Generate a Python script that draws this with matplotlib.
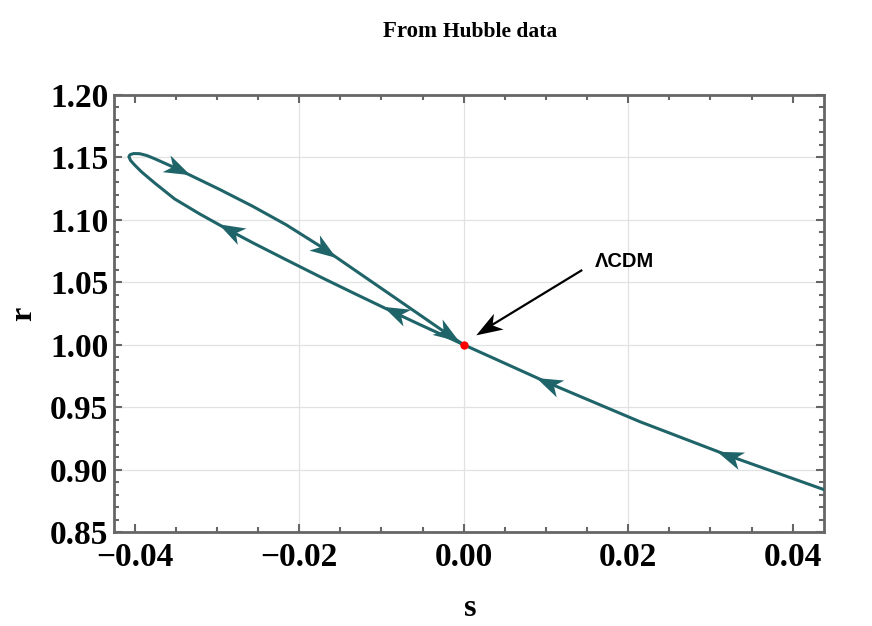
import numpy as np
import matplotlib.pyplot as plt
from matplotlib.path import Path
from matplotlib.markers import MarkerStyle
from matplotlib.transforms import Affine2D
from matplotlib.ticker import MultipleLocator, FuncFormatter

# s-r trajectory, in the order of travel
# (in from the right, lower branch up to the tip, upper branch back to LCDM)
s_traj = [0.04377, 0.03234, 0.0214, 0.01021, 0.00511, 0.0,
          -0.0013, -0.00535, -0.009, -0.01346, -0.01751, -0.02156, -0.02562,
          -0.02885, -0.0321, -0.03514, -0.03757, -0.03915, -0.04, -0.04049,
          -0.04069, -0.04055, -0.04012, -0.03939, -0.03854,
          -0.03757, -0.03574, -0.03331, -0.02967, -0.02562, -0.02156, -0.01751,
          -0.01346, -0.0094, -0.00535, -0.0021, 0.0]
r_traj = [0.884, 0.9108, 0.9384, 0.9696, 0.9848, 1.0,
          1.004, 1.0162, 1.0275, 1.0416, 1.0546, 1.068, 1.0816,
          1.0929, 1.1048, 1.1168, 1.1296, 1.1384, 1.144, 1.1476,
          1.1506, 1.1522, 1.1531, 1.153, 1.1516,
          1.149, 1.1436, 1.136, 1.1244, 1.1108, 1.096, 1.0792,
          1.0608, 1.0424, 1.024, 1.0092, 1.0]

# where the direction arrows sit on the curve
arrow_s = [0.0323, 0.0102, -0.0084, -0.02845, -0.03477, -0.0169, -0.00195]
arrow_r = [0.9112, 0.9696, 1.0264, 1.092, 1.1408, 1.0758, 1.0088]

# grid lines drawn in the original
grid_s = [-0.02, 0.0, 0.02]
grid_r = [0.90, 0.95, 1.00, 1.05, 1.10, 1.15]

# LCDM point and its label
lcdm_s, lcdm_r = 0.0, 1.0
label_tail = (0.0143, 1.0594)
label_tip = (0.0015, 1.008)
label_pos = (0.0159, 1.0626)

teal = '#1f6468'
frame = '#666666'
serif = 'Liberation Serif'

fig = plt.figure(figsize=(8.72, 6.26), dpi=100)
ax = fig.add_axes([114 / 872, 1 - 532 / 626, 710 / 872, 437 / 626])
ax.set_xlim(-0.0425, 0.0438)
ax.set_ylim(0.85, 1.20)

for g in grid_s:
    ax.axvline(g, color='#e2e2e2', lw=0.9, zorder=0)
for g in grid_r:
    ax.axhline(g, color='#e2e2e2', lw=0.9, zorder=0)

ax.plot(s_traj, r_traj, color=teal, lw=2.2, solid_joinstyle='round', zorder=3)

# swept-back arrowhead, tip at +1
head = Path([(1, 0), (-1, 0.7), (-0.45, 0), (-1, -0.7), (1, 0)],
            [Path.MOVETO, Path.LINETO, Path.LINETO, Path.LINETO, Path.CLOSEPOLY])


def put_head(x, y, ang, size, color):
    m = MarkerStyle(head, transform=Affine2D().rotate(ang))
    ax.plot([x], [y], marker=m, ms=size, color=color, mew=0, ls='none', zorder=4)


pts = ax.transData.transform(np.column_stack([s_traj, r_traj]))
for xa, ya in zip(arrow_s, arrow_r):
    p = ax.transData.transform((xa, ya))
    a, b = pts[:-1], pts[1:]
    d = b - a
    t = np.clip(np.sum((p - a) * d, axis=1) / np.sum(d * d, axis=1), 0, 1)
    dist = np.hypot(*(a + t[:, None] * d - p).T)
    k = np.argmin(dist)
    put_head(xa, ya, np.arctan2(d[k, 1], d[k, 0]), 19, teal)

ax.plot([lcdm_s], [lcdm_r], 'o', color='#ff0000', ms=6, mew=0, zorder=5)

# LCDM pointer
pt = ax.transData.transform(label_tip)
pb = ax.transData.transform(label_tail)
u = (pt - pb) / np.hypot(*(pt - pb))
hl = 26 / 2
pc = ax.transData.inverted().transform(pt - u * hl)
pn = ax.transData.inverted().transform(pt - u * hl * 1.4)
ax.plot([label_tail[0], pn[0]], [label_tail[1], pn[1]], color='black', lw=1.6, zorder=4)
put_head(pc[0], pc[1], np.arctan2(u[1], u[0]), 19, 'black')
ax.text(label_pos[0], label_pos[1], '\u039bCDM', fontsize=14.5, fontweight='bold',
        family='Liberation Sans', ha='left', va='baseline')

# frame, ticks
for sp in ax.spines.values():
    sp.set_color(frame)
    sp.set_linewidth(2)
ax.xaxis.set_major_locator(MultipleLocator(0.02))
ax.xaxis.set_minor_locator(MultipleLocator(0.005))
ax.yaxis.set_major_locator(MultipleLocator(0.05))
ax.yaxis.set_minor_locator(MultipleLocator(0.01))


def fmt(v, p):
    if abs(v) < 1e-9:
        v = 0.0
    return f'{v:.2f}'.replace('-', '\u2212')


ax.xaxis.set_major_formatter(FuncFormatter(fmt))
ax.yaxis.set_major_formatter(FuncFormatter(fmt))
ax.tick_params(which='both', direction='in', top=True, right=True, color=frame, width=1.5)
ax.tick_params(which='major', length=6)
ax.tick_params(which='minor', length=3.5)
ax.tick_params(axis='x', pad=7)
ax.tick_params(axis='y', pad=4)
for lab in ax.get_xticklabels() + ax.get_yticklabels():
    lab.set_family(serif)
    lab.set_fontweight('bold')
    lab.set_fontsize(24)

fig.text(24 / 872, 1 - 313.5 / 626, 'r', rotation=90, family=serif, fontweight='bold',
         fontsize=23, ha='center', va='center')
fig.text(470 / 872, 1 - 609 / 626, 's', family=serif, fontweight='bold',
         fontsize=23, ha='center', va='center')

# title in two sizes, centred over the axes
t1 = fig.text(0, 0, 'From ', family=serif, fontweight='bold', fontsize=16.5, va='baseline')
t2 = fig.text(0, 0, 'Hubble data', family=serif, fontweight='bold', fontsize=15.5, va='baseline')
r = fig.canvas.get_renderer()
w1 = t1.get_window_extent(r).width
w2 = t2.get_window_extent(r).width
x0 = 470 - (w1 + w2) / 2
yb = 1 - 37 / 626
t1.set_position((x0 / 872, yb))
t2.set_position(((x0 + w1) / 872, yb))

fig.savefig('out.png', dpi=100)
